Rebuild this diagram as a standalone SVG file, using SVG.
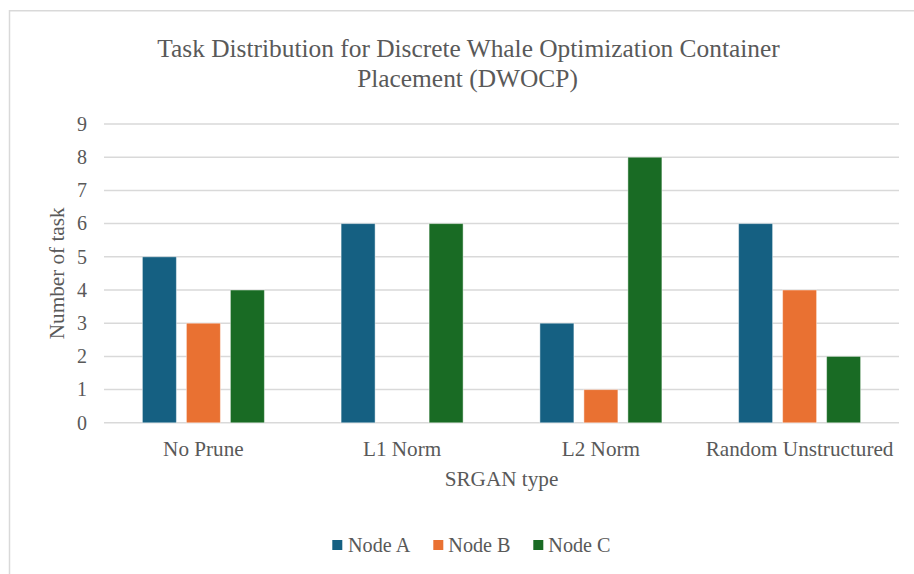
<svg xmlns="http://www.w3.org/2000/svg" width="914" height="574" viewBox="0 0 914 574">
  <style>
    .txt { font-family: "Liberation Serif", "Times New Roman", serif; fill: #595959; }
    .title { font-size: 25.4px; text-anchor: middle; }
    .tick { font-size: 20px; text-anchor: end; }
    .cat { font-size: 21.2px; text-anchor: middle; }
    .axis { font-size: 21.2px; text-anchor: middle; }
    .leg { font-size: 20.2px; }
    .grid { stroke: #d9d9d9; stroke-width: 1.5; }
    .bar { stroke: #ffffff; stroke-opacity: 0.45; stroke-width: 1; }
    .a { fill: #156082; }
    .b { fill: #e97132; }
    .c { fill: #196b24; }
  </style>

  <!-- chart background and frame -->
  <rect x="0" y="0" width="914" height="574" fill="#ffffff"/>
  <path d="M9.5,574 V10.8 H914" fill="none" stroke="#d9d9d9" stroke-width="1.5"/>

  <!-- title -->
  <g id="title">
    <text class="txt title" x="468.5" y="56.5">Task Distribution for Discrete Whale Optimization Container</text>
    <text class="txt title" x="467.5" y="86.5">Placement (DWOCP)</text>
  </g>

  <!-- horizontal gridlines, 0..9 -->
  <g id="gridlines">
    <line class="grid" x1="104" y1="124" x2="899" y2="124"/>
    <line class="grid" x1="104" y1="157.2" x2="899" y2="157.2"/>
    <line class="grid" x1="104" y1="190.4" x2="899" y2="190.4"/>
    <line class="grid" x1="104" y1="223.6" x2="899" y2="223.6"/>
    <line class="grid" x1="104" y1="256.8" x2="899" y2="256.8"/>
    <line class="grid" x1="104" y1="290" x2="899" y2="290"/>
    <line class="grid" x1="104" y1="323.2" x2="899" y2="323.2"/>
    <line class="grid" x1="104" y1="356.4" x2="899" y2="356.4"/>
    <line class="grid" x1="104" y1="389.6" x2="899" y2="389.6"/>
    <line class="grid" x1="104" y1="422.8" x2="899" y2="422.8"/>
  </g>

  <!-- value axis labels -->
  <g id="y-axis">
    <text class="txt tick" x="87" y="130.7">9</text>
    <text class="txt tick" x="87" y="163.9">8</text>
    <text class="txt tick" x="87" y="197.1">7</text>
    <text class="txt tick" x="87" y="230.3">6</text>
    <text class="txt tick" x="87" y="263.5">5</text>
    <text class="txt tick" x="87" y="296.7">4</text>
    <text class="txt tick" x="87" y="329.9">3</text>
    <text class="txt tick" x="87" y="363.1">2</text>
    <text class="txt tick" x="87" y="396.3">1</text>
    <text class="txt tick" x="87" y="429.5">0</text>
    <text class="txt axis" transform="translate(63.5,273.3) rotate(-90)">Number of task</text>
  </g>

  <!-- No Prune: 5, 3, 4 -->
  <g id="no-prune">
    <rect class="bar a" x="142.4" y="256.8" width="34" height="166"/>
    <rect class="bar b" x="186.4" y="323.2" width="34" height="99.6"/>
    <rect class="bar c" x="230.4" y="290" width="34" height="132.8"/>
  </g>

  <!-- L1 Norm: 6, 0, 6 -->
  <g id="l1-norm">
    <rect class="bar a" x="341.1" y="223.6" width="34" height="199.2"/>
    <rect class="bar c" x="429.1" y="223.6" width="34" height="199.2"/>
  </g>

  <!-- L2 Norm: 3, 1, 8 -->
  <g id="l2-norm">
    <rect class="bar a" x="539.9" y="323.2" width="34" height="99.6"/>
    <rect class="bar b" x="583.9" y="389.6" width="34" height="33.2"/>
    <rect class="bar c" x="627.9" y="157.2" width="34" height="265.6"/>
  </g>

  <!-- Random Unstructured: 6, 4, 2 -->
  <g id="random-unstructured">
    <rect class="bar a" x="738.6" y="223.6" width="34" height="199.2"/>
    <rect class="bar b" x="782.6" y="290" width="34" height="132.8"/>
    <rect class="bar c" x="826.6" y="356.4" width="34" height="66.4"/>
  </g>

  <!-- category axis -->
  <g id="x-axis">
    <text class="txt cat" x="203.4" y="456">No Prune</text>
    <text class="txt cat" x="402.1" y="456">L1 Norm</text>
    <text class="txt cat" x="600.9" y="456">L2 Norm</text>
    <text class="txt cat" x="799.6" y="456">Random Unstructured</text>
    <text class="txt axis" x="501.5" y="486">SRGAN type</text>
  </g>

  <!-- legend -->
  <g id="legend">
    <rect class="a" x="332.3" y="540" width="10" height="10"/>
    <text class="txt leg" x="348" y="552">Node A</text>
    <rect class="b" x="433.3" y="540" width="10" height="10"/>
    <text class="txt leg" x="448.3" y="552">Node B</text>
    <rect class="c" x="533.3" y="540" width="10" height="10"/>
    <text class="txt leg" x="548.3" y="552">Node C</text>
  </g>
</svg>
